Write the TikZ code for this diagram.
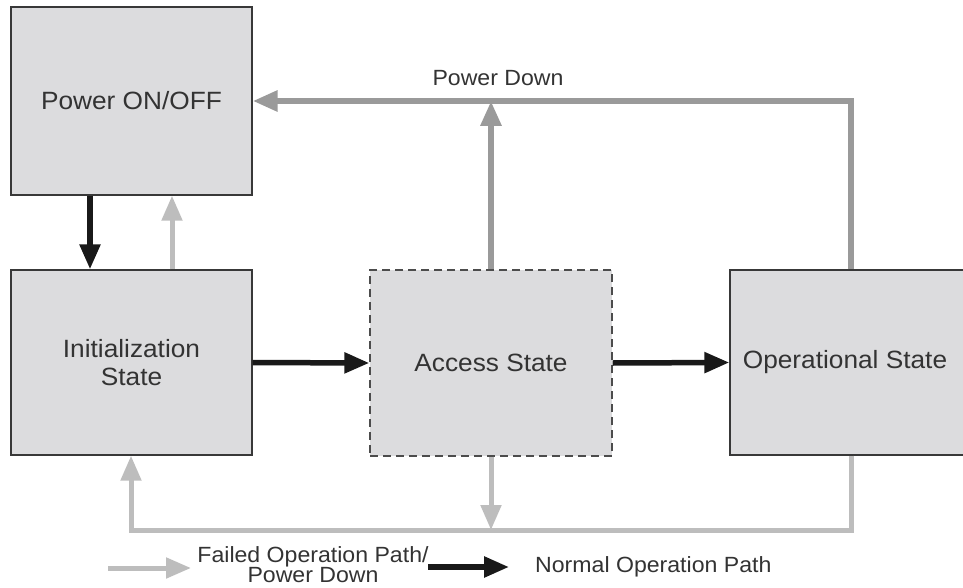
\documentclass[tikz,border=0pt]{standalone}
\usepackage{fontspec}
\setmainfont{Liberation Sans}[FakeStretch=1.05]
\usetikzlibrary{arrows.meta}
\definecolor{boxfill}{HTML}{DCDCDE}
\definecolor{boxline}{HTML}{383838}
\definecolor{darkgr}{HTML}{9A9A9A}
\definecolor{lightgr}{HTML}{BDBDBD}
\definecolor{txt}{HTML}{333333}
\tikzset{
  box/.style={draw=boxline, fill=boxfill, line width=1.4pt, inner sep=0pt, align=center,
    text=txt, font=\fontsize{25}{28}\selectfont},
  dashbox/.style={box, draw=boxline!90, dash pattern=on 8pt off 5pt},
  lbl/.style={text=txt, font=\fontsize{22}{20}\selectfont, align=center, inner sep=0pt},
  tip/.style={-{Triangle[length=25pt,width=20pt]}},
  blk/.style={tip, draw=black!90, line width=5.5pt},
  dgr/.style={tip, draw=darkgr, line width=6pt},
  lgr/.style={tip, draw=lightgr, line width=5pt},
}
\begin{document}
\begin{tikzpicture}[x=1pt,y=-1pt]
\clip (0,0) rectangle (963,588);
\fill[white] (0,0) rectangle (963,588);

\node[box, minimum width=241pt, minimum height=188pt] (pw) at (131.5,101) {Power ON/OFF};
\node[box, minimum width=241pt, minimum height=185pt] (init) at (131.5,362.5) {Initialization\\State};
\node[dashbox, minimum width=242pt, minimum height=186pt] (acc) at (491,363) {Access State};
\node[box, minimum width=245pt, minimum height=185pt] (op) at (852.5,362.5) {};
\node[lbl, font=\fontsize{25}{28}\selectfont] (optxt) at (845,362) {Operational State};

\coordinate (xa) at (90,0);
\coordinate (xb) at (172,0);
\coordinate (xc) at (131,0);
\coordinate (xd) at (851,0);
\coordinate (yt) at (0,101);
\coordinate (yb) at (0,530);

% normal paths
\draw[blk] (pw.south -| xa) -- (init.north -| xa);
\draw[blk] (init.east) -- (acc.west);
\draw[blk] (acc.east) -- (op.west);

% power down (top)
\draw[lgr] (init.north -| xb) -- (pw.south -| xb);
\draw[dgr] (acc.north) -- (acc.north |- yt);
\draw[dgr] (op.north -| xd) |- (pw.east |- yt);
\node[lbl] (pd) at (498,78) {Power Down};

% failed path (bottom)
\draw[lgr] (op.south -| xd) |- (yb -| xc) -- (init.south -| xc);
\draw[lgr] (acc.south) -- (acc.south |- yb);

% legend
\coordinate (l1) at (108,568);
\coordinate (l2) at (191,568);
\draw[lgr] (l1) -- (l2);
\node[lbl] (lf) at (313,565) {Failed Operation Path/\\Power Down};
\coordinate (l3) at (428,567);
\coordinate (l4) at (509,567);
\draw[blk] (l3) -- (l4);
\node[lbl, anchor=west] (ln) at (535,567) {Normal Operation Path};
\end{tikzpicture}
\end{document}
